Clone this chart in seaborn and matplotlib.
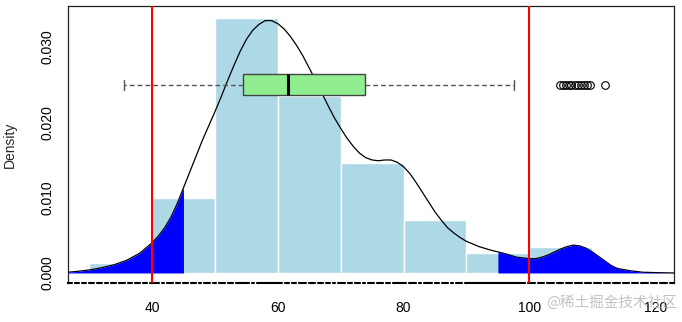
import numpy as np
import pandas as pd
import seaborn as sns
import matplotlib.pyplot as plt

# histogram (density scale), bins of width 10
bin_edges = [30, 40, 50, 60, 70, 80, 90, 100, 110]
bin_density = [0.0013, 0.0100, 0.0339, 0.0235, 0.0146, 0.0070, 0.0027, 0.0035]

# density curve
dens_x = [26.6, 28, 30, 32, 34, 36, 38, 40, 41, 42, 43, 44, 45, 46, 47, 48, 49, 50,
          51, 52, 53, 54, 55, 56, 57, 58, 59, 60, 61, 62, 63, 64, 65, 66, 67, 68, 69, 70,
          71, 72, 73, 74, 75, 76, 77, 78, 79, 80, 81, 82, 83, 84, 85, 86, 87, 88, 89, 90,
          92, 94, 95, 96, 98, 100, 101, 102, 103, 104, 105, 106, 107, 108, 109, 110,
          111, 112, 113, 114, 116, 118, 120, 123]
dens_y = [0.0001, 0.0002, 0.0004, 0.0007, 0.0011, 0.0017, 0.0026, 0.0040, 0.0049, 0.0060,
          0.0074, 0.0092, 0.0113, 0.0134, 0.0155, 0.0176, 0.0195, 0.0214,
          0.0234, 0.0255, 0.0275, 0.0294, 0.0310, 0.0322, 0.0330, 0.0335, 0.0335, 0.0331,
          0.0324, 0.0314, 0.0302, 0.0288, 0.0272, 0.0256, 0.0239, 0.0222, 0.0206, 0.0192,
          0.0179, 0.0168, 0.0159, 0.0153, 0.0150, 0.0149, 0.0150, 0.0150, 0.0147, 0.0141,
          0.0132, 0.0120, 0.0107, 0.0094, 0.0081, 0.0070, 0.0060, 0.0053, 0.0047, 0.0042,
          0.0035, 0.0030, 0.0028, 0.0026, 0.0021, 0.0019, 0.0019, 0.0021, 0.0024, 0.0028,
          0.0032, 0.0035, 0.0037, 0.0036, 0.0033, 0.0028,
          0.0022, 0.0016, 0.0010, 0.0006, 0.0003, 0.0001, 0.00005, 0.0]

# shaded tails and cut lines
low_tail = 45
high_tail = 95
cut_lines = [40, 100]

# boxplot summary
box_q1, box_med, box_q3 = 54.4, 61.6, 73.8
whisk_lo, whisk_hi = 35.6, 97.5
outliers = [104.9, 105.4, 105.8, 106.3, 106.7, 107.2, 107.7, 108.2, 108.7, 109.2, 109.6, 112.1]
box_y = 0.025

# rug positions
rug_x = [27.4, 28.5, 29.6, 31.0, 32.2, 33.1, 34.5, 35.8, 37.0, 38.3, 39.4, 41.2, 42.0, 43.5,
         44.6, 45.9, 47.1, 48.0, 49.3, 50.4, 51.8, 53.0, 55.6, 56.4, 60.8, 62.0, 63.1, 64.7,
         66.0, 67.3, 68.5, 69.2, 70.8, 72.0, 73.3, 74.0, 75.5, 76.9, 78.0, 80.5, 82.1, 83.0,
         84.6, 85.8, 87.2, 88.0, 89.5, 99.5, 101.0, 102.5, 104.0, 105.5, 107.0, 108.5, 110.0,
         111.5, 113.0, 114.5, 116.0, 117.5, 119.0, 120.5, 122.0]

sns.set_style("white")
plt.rcParams['font.family'] = ['Liberation Sans', 'DejaVu Sans']

fig = plt.figure(figsize=(6.82, 3.22), dpi=100)
ax = fig.add_axes([68/682, 1 - 283/322, (674 - 68)/682, (283 - 6)/322])

mids = [(a + b) / 2 for a, b in zip(bin_edges[:-1], bin_edges[1:])]
sns.histplot(x=mids, weights=bin_density, bins=bin_edges, stat="count",
             color="lightblue", alpha=1, edgecolor="white", linewidth=1, ax=ax)

dens = pd.DataFrame({"x": dens_x, "y": dens_y})
sns.lineplot(data=dens, x="x", y="y", color="black", lw=0.9, ax=ax, zorder=3)

xs = np.array(dens_x)
ys = np.array(dens_y)
ax.fill_between(xs, 0, ys, where=xs <= low_tail, color="blue", lw=0, zorder=3.5)
ax.fill_between(xs, 0, ys, where=xs >= high_tail, color="blue", lw=0, zorder=3.5)

for c in cut_lines:
    ax.axvline(c, color="red", lw=1.5, zorder=4)

stats = [dict(med=box_med, q1=box_q1, q3=box_q3, whislo=whisk_lo, whishi=whisk_hi, fliers=outliers)]
ax.bxp(stats, positions=[box_y], widths=0.0027, orientation="horizontal", patch_artist=True,
       capwidths=0.0013, manage_ticks=False,
       boxprops=dict(facecolor="lightgreen", edgecolor="#444444", lw=1),
       medianprops=dict(color="black", lw=2.2),
       whiskerprops=dict(color="#555555", lw=1, linestyle=(0, (3.4, 2.2))),
       capprops=dict(color="#555555", lw=1),
       flierprops=dict(marker="o", markerfacecolor="none", markeredgecolor="black",
                       markersize=5.5, markeredgewidth=0.8))
for art in ax.patches[-1:] + ax.lines[-6:]:
    art.set_zorder(5)

# rug in white cutting the bottom frame line
ax.vlines(rug_x, -0.0036, -0.0010, colors="white", lw=1.0, zorder=6, clip_on=False)

ax.set_xlim(26.64, 123.0)
ax.set_ylim(-0.00133, 0.03544)

ax.set_xticks([40, 60, 80, 100, 120])
ax.set_xticklabels(["40", "60", "80", "100", "120"])
yt = [0, 0.005, 0.010, 0.015, 0.020, 0.025, 0.030, 0.035]
ax.set_yticks(yt)
ax.set_yticklabels(["0.000", "", "0.010", "", "0.020", "", "0.030", ""],
                   rotation=90, va="center")
ax.tick_params(axis="both", direction="out", length=5, width=0.8, color="black",
               labelsize=10, labelcolor="black")
ax.tick_params(axis="x", pad=8)
ax.tick_params(axis="y", pad=5)
ax.set_xlabel("")
ax.set_ylabel("Density", fontsize=10, labelpad=17)

for s in ax.spines.values():
    s.set_visible(True)
    s.set_color("#222222")
    s.set_linewidth(0.9)
ax.spines["bottom"].set_color("black")
ax.spines["bottom"].set_linewidth(1.5)

fig.text(0.993, 0.06, "@稀土掘金技术社区", ha="right", va="center", fontsize=10.5,
         color="#b8b8b8", alpha=0.85, family=["Noto Sans CJK SC", "DejaVu Sans"])

fig.savefig("out.png", dpi=100)
